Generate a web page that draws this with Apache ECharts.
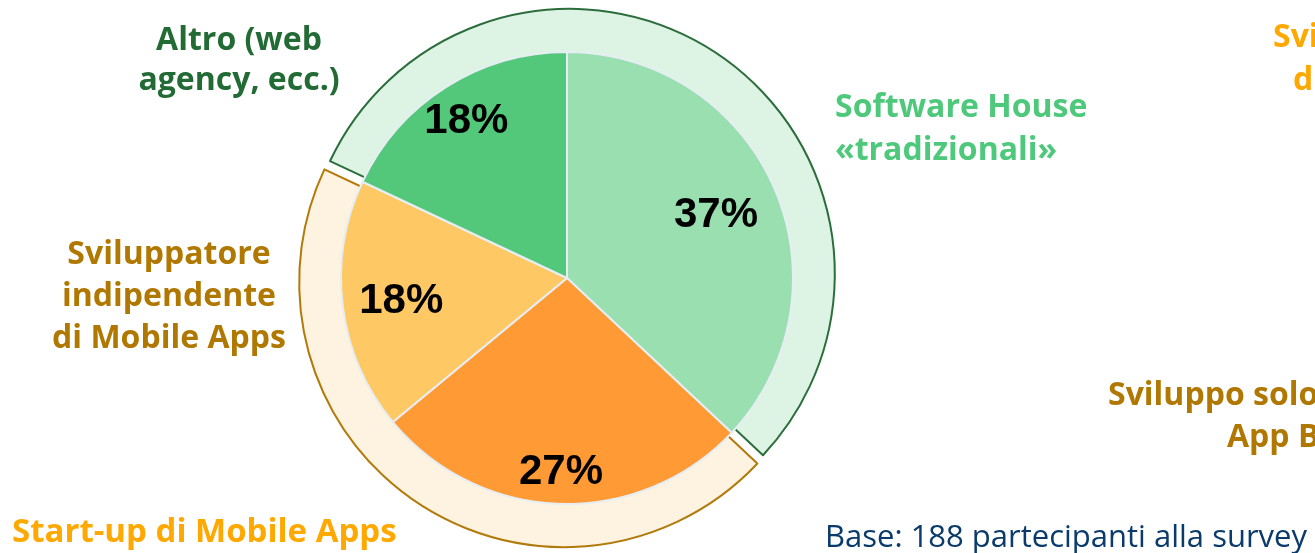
<!DOCTYPE html>
<html>
  <head>
    <meta charset="UTF-8" />
    <title>Tipologia partecipanti</title>
    <style>
      html, body { margin: 0; padding: 0; background: #ffffff; }
      #main { width: 1315px; height: 553px; }
    </style>
  </head>
  <body>
    <div id="main"></div>
  </body>
  <script src="https://cdn.jsdelivr.net/npm/echarts@6/dist/echarts.min.js"></script>
  <script>
    // slices, clockwise from the top
    const categories = ['Software House «tradizionali»', 'Start-up di Mobile Apps', 'Sviluppatore indipendente di Mobile Apps', 'Altro (web agency, ecc.)']
    const values = [37, 27, 18, 18]
    const sliceColors = ['#99dfb0', '#ff9a35', '#fec965', '#53c77a']
    // outer bands: green group = Altro + Software House, orange group = the other two
    const groups = ['green', 'orange']
    const groupMembers = [[3, 0], [1, 2]]

    const CX = 567, CY = 278, R = 226
    // where each % label sits, as a share of the radius
    const labelRadius = [0.70, 0.83, 0.72, 0.81]

    const groupValues = groupMembers.map(m => m.reduce((s, i) => s + values[i], 0))
    const total = values.reduce((a, b) => a + b, 0)
    // ring starts where Altro starts (Altro is the last slice before the top)
    const ringStart = 90 + values[3] / total * 360

    const myChart = echarts.init(document.getElementById('main'))

    const labelFont = "'Open Sans', 'DejaVu Sans', sans-serif"

    let text = function (x, y, str, color, opts) {
      opts = opts || {}
      return {
        type: 'text',
        x: x,
        y: y,
        style: {
          text: str,
          fill: color,
          font: (opts.weight || 'bold') + ' ' + (opts.size || 32) + 'px ' + labelFont,
          align: opts.align || 'left',
          textAlign: opts.align || 'left',
          verticalAlign: 'middle',
          textVerticalAlign: 'middle',
          lineHeight: opts.lineHeight || 42,
        },
      }
    }

    const option = {
      animation: false,
      series: [
        {
          type: 'pie',
          z: 1,
          center: [CX, CY],
          radius: [200, 265],
          startAngle: ringStart,
          clockwise: true,
          silent: true,
          selectedMode: 'multiple',
          selectedOffset: 5,
          label: { show: false },
          labelLine: { show: false },
          data: groupValues.map((v, i) => ({
            name: groups[i],
            value: v,
            selected: true,
            itemStyle: i === 0
              ? { color: '#ddf3e4', borderColor: '#2b6e3b', borderWidth: 2 }
              : { color: '#fef2e0', borderColor: '#b27a0a', borderWidth: 2 },
          })),
        },
        {
          type: 'pie',
          z: 2,
          center: [CX, CY],
          radius: [0, R],
          startAngle: 90,
          clockwise: true,
          silent: true,
          itemStyle: { borderColor: '#e6eef3', borderWidth: 2 },
          label: {
            show: true,
            position: 'inside',
            formatter: '{c}%',
            color: '#000',
            fontFamily: "'Liberation Sans', Arial, sans-serif",
            fontWeight: 'bold',
            fontSize: 42,
          },
          labelLine: { show: false },
          labelLayout: function (params) {
            const r = params.labelRect
            const lx = r.x + r.width / 2
            const ly = r.y + r.height / 2
            const k = labelRadius[params.dataIndex] / 0.5
            return {
              x: CX + (lx - CX) * k,
              y: CY + (ly - CY) * k + 2,
              align: 'center',
              verticalAlign: 'middle',
            }
          },
          data: values.map((v, i) => ({
            name: categories[i],
            value: v,
            itemStyle: { color: sliceColors[i] },
          })),
        },
      ],
      graphic: [
        text(239, 61, 'Altro (web\nagency, ecc.)', '#236b35', { align: 'center', lineHeight: 40 }),
        text(835, 129, 'Software House\n«tradizionali»', '#4ec97b', { lineHeight: 43 }),
        text(169, 297, 'Sviluppatore\nindipendente\ndi Mobile Apps', '#b07800', { align: 'center' }),
        text(12, 533, 'Start-up di Mobile Apps', '#ffa800', { size: 33 }),
        text(825, 538, 'Base: 188 partecipanti alla survey', '#0b3a6c', { weight: 'normal', size: 31 }),
        text(1273, 38, 'Sviluppo', '#ffa800'),
        text(1293, 81, "d'app", '#ffa800'),
        text(1108, 396, 'Sviluppo solo di', '#b07800'),
        text(1227, 438, 'App Business', '#b07800'),
      ],
    }

    myChart.setOption(option)
  </script>
</html>
